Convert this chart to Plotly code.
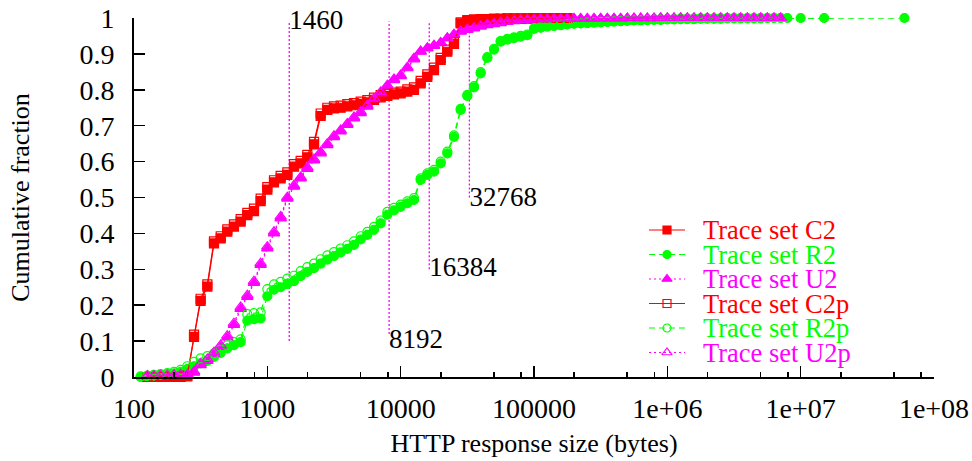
import plotly.graph_objects as go

# ---------------- data ----------------
# response-size bins (bytes), log-spaced 0.05 decade apart, from 112 B up to ~7.9 MB
SIZE_BINS = [
    112, 126, 141, 158, 178, 200, 224, 251, 282, 316,
    355, 398, 447, 501, 562, 631, 708, 794, 891, 1000,
    1122, 1259, 1413, 1585, 1778, 1995, 2239, 2512, 2818, 3162,
    3548, 3981, 4467, 5012, 5623, 6310, 7079, 7943, 8913, 10000,
    11220, 12589, 14125, 15849, 17783, 19953, 22387, 25119, 28184, 31623,
    35481, 39811, 44668, 50119, 56234, 63096, 70795, 79433, 89125, 100000,
    112202, 125893, 141254, 158489, 177828, 199526, 223872, 251189, 281838, 316228,
    354813, 398107, 446684, 501187, 562341, 630957, 707946, 794328, 891251, 1000000,
    1122018, 1258925, 1412538, 1584893, 1778279, 1995262, 2238721, 2511886, 2818383, 3162278,
    3548134, 3981072, 4466836, 5011872, 5623413, 6309573, 7079458, 7943282,
]

C2 = [
    0.0, 0.0, 0.0, 0.0, 0.0, 0.0, 0.002, 0.112,
    0.212, 0.252, 0.372, 0.386, 0.405, 0.419, 0.433, 0.451, 0.462, 0.490,
    0.522, 0.542, 0.553, 0.563, 0.586, 0.595, 0.612, 0.648, 0.727, 0.744,
    0.748, 0.750, 0.754, 0.757, 0.761, 0.765, 0.772, 0.779, 0.783, 0.787,
    0.790, 0.795, 0.800, 0.818, 0.836, 0.855, 0.883, 0.906, 0.928, 0.985,
    0.992, 0.994, 0.995, 0.996, 0.997, 0.997, 0.998, 0.998, 0.998, 0.999,
    0.999, 0.999, 1.0, 1.0, 1.0, 1.0,
]
C2P = [
    0.0, 0.0, 0.0, 0.0, 0.0, 0.001, 0.004, 0.118,
    0.218, 0.258, 0.378, 0.392, 0.411, 0.425, 0.440, 0.457, 0.469, 0.497,
    0.529, 0.548, 0.560, 0.570, 0.593, 0.602, 0.619, 0.655, 0.734, 0.750,
    0.754, 0.756, 0.760, 0.763, 0.767, 0.771, 0.778, 0.785, 0.789, 0.792,
    0.795, 0.801, 0.807, 0.825, 0.843, 0.862, 0.889, 0.912, 0.933, 0.988,
    0.994, 0.996, 0.997, 0.997, 0.998, 0.998, 0.999, 0.999, 0.999, 0.999,
    1.0, 1.0, 1.0, 1.0, 1.0, 1.0,
]
R2 = [
    0.000, 0.002, 0.004, 0.006, 0.008, 0.010, 0.014, 0.022, 0.030,
    0.038, 0.045, 0.056, 0.067, 0.080, 0.089, 0.097, 0.157, 0.161, 0.163,
    0.225, 0.243, 0.250, 0.259, 0.267, 0.281, 0.293, 0.303, 0.316, 0.327,
    0.337, 0.347, 0.357, 0.368, 0.383, 0.396, 0.410, 0.428, 0.452, 0.464,
    0.474, 0.484, 0.493, 0.549, 0.563, 0.572, 0.595, 0.623, 0.669, 0.744,
    0.783, 0.807, 0.846, 0.889, 0.912, 0.934, 0.940, 0.944, 0.948, 0.952,
    0.970, 0.973, 0.976, 0.978, 0.980, 0.982, 0.984, 0.985, 0.986, 0.987,
    0.988, 0.989, 0.990, 0.991, 0.992, 0.993, 0.993, 0.994, 0.995, 0.995,
    0.996, 0.996, 0.997, 0.997, 0.997, 0.998, 0.998, 0.998, 0.998, 0.999,
    0.999, 0.999, 0.999, 0.999, 0.999, 1.0, 1.0, 1.0, 1.0,
]
R2_TAIL_X = [10000000, 15000000, 60000000]
R2_TAIL_Y = [1.0, 1.0, 1.0]
R2P = [
    0.002, 0.004, 0.006, 0.008, 0.011, 0.014, 0.020, 0.030, 0.042,
    0.052, 0.058, 0.066, 0.076, 0.088, 0.097, 0.105, 0.175, 0.178, 0.180,
    0.245, 0.258, 0.265, 0.274, 0.282, 0.295, 0.306, 0.316, 0.328, 0.339,
    0.348, 0.358, 0.367, 0.378, 0.392, 0.404, 0.418, 0.436, 0.460, 0.471,
    0.480, 0.489, 0.498, 0.553, 0.567, 0.577, 0.600, 0.628, 0.673, 0.747,
    0.786, 0.810, 0.849, 0.891, 0.914, 0.936, 0.942, 0.946, 0.950, 0.954,
    0.971, 0.974, 0.977, 0.979, 0.981, 0.983, 0.985, 0.986, 0.987, 0.988,
    0.989, 0.990, 0.991, 0.992, 0.993, 0.994, 0.994, 0.995, 0.996, 0.996,
    0.997, 0.997, 0.998, 0.998, 0.998, 0.999, 0.999, 0.999, 0.999, 1.0,
    1.0, 1.0, 1.0, 1.0, 1.0, 1.0, 1.0, 1.0,
]
U2 = [
    0.003, 0.003, 0.004, 0.004, 0.005, 0.005, 0.006, 0.012,
    0.033, 0.045, 0.064, 0.084, 0.110, 0.145, 0.190, 0.223, 0.262, 0.312,
    0.358, 0.400, 0.442, 0.497, 0.530, 0.553, 0.580, 0.603, 0.623, 0.646,
    0.668, 0.684, 0.702, 0.720, 0.735, 0.753, 0.772, 0.790, 0.809, 0.827,
    0.838, 0.860, 0.885, 0.906, 0.915, 0.922, 0.930, 0.943, 0.953, 0.962,
    0.967, 0.971, 0.976, 0.980, 0.983, 0.986, 0.989, 0.991, 0.993, 0.994,
    0.995, 0.996, 0.996, 0.997, 0.997, 0.997, 0.998, 0.998, 0.998, 0.998,
    0.999, 0.999, 0.999, 0.999, 0.999, 0.999, 0.999, 0.999, 0.999, 1.0,
    1.0, 1.0, 1.0, 1.0, 1.0, 1.0, 1.0, 1.0, 1.0, 1.0,
    1.0, 1.0, 1.0, 1.0, 1.0, 1.0, 1.0, 1.0,
]
U2P = [
    0.004, 0.004, 0.005, 0.005, 0.006, 0.007, 0.008, 0.016,
    0.037, 0.050, 0.069, 0.089, 0.115, 0.150, 0.195, 0.228, 0.267, 0.317,
    0.363, 0.405, 0.447, 0.501, 0.534, 0.557, 0.584, 0.607, 0.627, 0.650,
    0.672, 0.688, 0.706, 0.724, 0.739, 0.757, 0.776, 0.794, 0.813, 0.830,
    0.841, 0.863, 0.888, 0.908, 0.917, 0.924, 0.932, 0.945, 0.955, 0.964,
    0.969, 0.973, 0.978, 0.982, 0.985, 0.988, 0.990, 0.992, 0.994, 0.995,
    0.996, 0.997, 0.997, 0.998, 0.998, 0.998, 0.999, 0.999, 0.999, 0.999,
    0.999, 0.999, 0.999, 0.999, 1.0, 1.0, 1.0, 1.0, 1.0, 1.0,
    1.0, 1.0, 1.0, 1.0, 1.0, 1.0, 1.0, 1.0, 1.0, 1.0,
    1.0, 1.0, 1.0, 1.0, 1.0, 1.0, 1.0, 1.0,
]

# reference sizes marked with dotted vertical lines
MARK_SIZES = [1460, 8192, 16384, 32768]
MARK_LABELS = ["1460", "8192", "16384", "32768"]
MARK_LOW = [0.10, 0.12, 0.30, 0.50]
MARK_HIGH = 0.99
MARK_LABEL_Y = [0.988, 0.10, 0.30, 0.496]

X_TICKS = [1e2, 1e3, 1e4, 1e5, 1e6, 1e7, 1e8]
X_TICK_TEXT = ["100", "1000", "10000", "100000", "1e+06", "1e+07", "1e+08"]
X_MINOR = [m * 10 ** k for k in range(2, 8) for m in (2, 5, 8)]
Y_TICKS = [i / 10 for i in range(11)]
Y_TICK_TEXT = ["0", "0.1", "0.2", "0.3", "0.4", "0.5", "0.6", "0.7", "0.8", "0.9", "1"]

# ---------------- styling ----------------
RED, GREEN, MAGENTA = "#ff0000", "#00ff00", "#ff00ff"
FONT = "Liberation Serif"
FS = 26          # axis titles
TICK_FS = 28     # tick labels
MARK_FS = 27     # 1460 / 8192 / ... labels
LEG_FS = 26.5    # key text
DASH_R = "6px,4px"
DOT_U = "2px,3px"

series = [
    # name, values, first-bin index, colour, dash, symbol, size
    ("Trace set C2", C2, 1, RED, "solid", "square", 9),
    ("Trace set R2", R2, 0, GREEN, DASH_R, "circle", 9),
    ("Trace set U2", U2, 1, MAGENTA, DOT_U, "triangle-up", 10),
    ("Trace set C2p", C2P, 1, RED, "solid", "square-open", 9),
    ("Trace set R2p", R2P, 0, GREEN, DASH_R, "circle-open", 9),
    ("Trace set U2p", U2P, 1, MAGENTA, DOT_U, "triangle-up-open", 10),
]

fig = go.Figure()

for i, s in enumerate(MARK_SIZES):
    fig.add_trace(go.Scatter(
        x=[s, s], y=[MARK_LOW[i], MARK_HIGH], mode="lines",
        line=dict(color=MAGENTA, width=1.3, dash="2px,2px"),
        showlegend=False, hoverinfo="skip"))

for name, vals, start, col, dash, sym, size in series:
    xs = SIZE_BINS[start:start + len(vals)]
    ys = list(vals)
    if name == "Trace set R2":
        xs = xs + R2_TAIL_X
        ys = ys + R2_TAIL_Y
    fig.add_trace(go.Scatter(
        x=xs, y=ys, mode="lines+markers", name=name,
        line=dict(color=col, width=1.2, dash=dash),
        marker=dict(symbol=sym, size=size, color=col,
                    line=dict(color=col, width=1.2)),
        cliponaxis=False, showlegend=False))

fig.add_trace(go.Scatter(
    x=MARK_SIZES, y=MARK_LABEL_Y, mode="text", text=MARK_LABELS,
    textposition="middle right",
    textfont=dict(family=FONT, size=MARK_FS, color="black"),
    showlegend=False, hoverinfo="skip", cliponaxis=False))

# ---------------- hand-made gnuplot-style key (pixel overlay axes) ----------------
LEG_ROWS = [230, 254.5, 279, 303.5, 328, 352.5]
LEG_X0, LEG_XM, LEG_X1, LEG_TX = 649, 667, 685, 701
annotations = []
for (name, vals, start, col, dash, sym, size), ry in zip(series, LEG_ROWS):
    fig.add_trace(go.Scatter(
        x=[LEG_X0, LEG_X1], y=[ry, ry], mode="lines",
        line=dict(color=col, width=1.2, dash=dash),
        xaxis="x2", yaxis="y2", showlegend=False, hoverinfo="skip"))
    fig.add_trace(go.Scatter(
        x=[LEG_XM], y=[ry], mode="markers",
        marker=dict(symbol=sym, size=size - 1, color=col,
                    line=dict(color=col, width=1.2)),
        xaxis="x2", yaxis="y2", showlegend=False, hoverinfo="skip"))
    annotations.append(dict(
        x=LEG_TX, y=ry, xref="x2", yref="y2", text=name, showarrow=False,
        xanchor="left", yanchor="middle",
        font=dict(family=FONT, size=LEG_FS, color=col)))

fig.update_layout(
    width=972, height=461,
    margin=dict(l=134, r=38, t=18, b=84, autoexpand=False),
    paper_bgcolor="white", plot_bgcolor="white",
    font=dict(family=FONT, size=FS, color="black"),
    showlegend=False,
    hovermode=False,
    annotations=annotations,
    xaxis=dict(
        type="log", range=[2, 8], tickvals=X_TICKS, ticktext=X_TICK_TEXT,
        ticks="inside", ticklen=11, tickwidth=1.5, tickcolor="black",
        showline=True, linewidth=2, linecolor="black", mirror=False,
        showgrid=False, zeroline=False, ticklabelstandoff=5, automargin=False,
        tickfont=dict(family=FONT, size=TICK_FS),
        minor=dict(tickvals=X_MINOR, ticks="inside", ticklen=5,
                   tickwidth=1.5, tickcolor="black", showgrid=False),
        title=dict(text="HTTP response size (bytes)", standoff=11,
                   font=dict(family=FONT, size=FS)),
    ),
    yaxis=dict(
        range=[0, 1], tickvals=Y_TICKS, ticktext=Y_TICK_TEXT,
        ticks="inside", ticklen=11, tickwidth=1.5, tickcolor="black",
        showline=True, linewidth=2, linecolor="black", mirror=False,
        showgrid=False, zeroline=False, ticklabelstandoff=12, automargin=False,
        tickfont=dict(family=FONT, size=TICK_FS),
        title=dict(text="Cumulative fraction", standoff=42,
                   font=dict(family=FONT, size=FS)),
    ),
    xaxis2=dict(range=[134, 934], overlaying="x", visible=False, anchor="y2",
                automargin=False),
    yaxis2=dict(range=[377, 18], overlaying="y", visible=False, anchor="x2",
                automargin=False),
)

fig.write_html("out.html",
               config={"displayModeBar": False, "staticPlot": True},
               post_script="document.body.style.margin='0px';"
                           "document.body.style.padding='0px';")
